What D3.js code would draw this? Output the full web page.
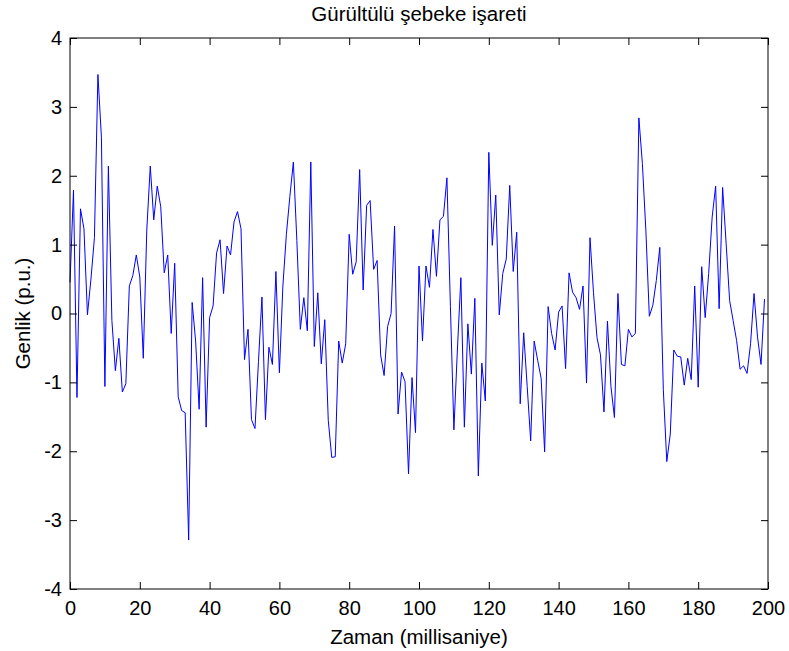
<!DOCTYPE html>
<html>
<head>
<meta charset="utf-8">
<script src="https://cdn.jsdelivr.net/npm/d3@7"></script>
<style>
  body { margin: 0; background: #fff; }
  text { font-family: "Liberation Sans", Arial, sans-serif; fill: #000; }
</style>
</head>
<body>
<div id="chart"></div>
<script>
// noisy signal samples, one per millisecond
const signal = [
  0.45, 1.79, -1.22, 1.52, 1.23, -0.02, 0.5, 1.1, 3.47, 2.56,
  -1.06, 2.14, -0.1, -0.83, -0.36, -1.14, -1.02, 0.4, 0.55, 0.85,
  0.53, -0.65, 1.21, 2.14, 1.36, 1.85, 1.55, 0.59, 0.85, -0.29,
  0.73, -1.21, -1.41, -1.44, -3.29, 0.16, -0.4, -1.39, 0.52, -1.65,
  -0.06, 0.11, 0.88, 1.07, 0.29, 0.98, 0.85, 1.33, 1.48, 1.23,
  -0.67, -0.23, -1.54, -1.67, -0.7, 0.24, -1.54, -0.49, -0.74, 0.61,
  -0.86, 0.4, 1.15, 1.7, 2.2, 1.06, -0.23, 0.23, -0.25, 2.2,
  -0.48, 0.3, -0.73, -0.09, -1.55, -2.09, -2.08, -0.4, -0.72, -0.44,
  1.15, 0.57, 0.75, 2.09, 0.34, 1.57, 1.64, 0.64, 0.77, -0.6,
  -0.9, -0.19, 0.0, 1.27, -1.46, -0.85, -0.99, -2.33, -0.93, -1.73,
  0.69, -0.4, 0.69, 0.38, 1.22, 0.54, 1.36, 1.41, 1.97, 0.1,
  -1.69, -0.53, 0.52, -1.65, -0.15, -0.88, 0.22, -2.36, -0.72, -1.27,
  2.34, 0.99, 1.72, -0.02, 0.58, 0.79, 1.86, 0.61, 1.18, -1.31,
  -0.28, -1.06, -1.85, -0.4, -0.68, -0.94, -2.01, 0.1, -0.29, -0.53,
  0.02, 0.11, -0.8, 0.59, 0.31, 0.23, 0.06, 0.4, -1.01, 1.1,
  0.3, -0.35, -0.6, -1.43, -0.11, -1.06, -1.51, 0.29, -0.74, -0.76,
  -0.23, -0.34, -0.29, 2.84, 2.18, 1.21, -0.04, 0.12, 0.48, 0.96,
  -1.1, -2.15, -1.75, -0.53, -0.62, -0.63, -1.04, -0.65, -0.96, 0.4,
  -1.07, 0.68, -0.06, 0.58, 1.4, 1.85, 0.07, 1.83, 1.02, 0.19,
  -0.1, -0.39, -0.81, -0.76, -0.87, -0.44, 0.29, -0.34, -0.74, 0.21
]
// sample times in ms
const timeMs = d3.range(0, signal.length)

const xTicks = [0, 20, 40, 60, 80, 100, 120, 140, 160, 180, 200]
const yTicks = [-4, -3, -2, -1, 0, 1, 2, 3, 4]
const yTickLabels = ["-4", "-3", "-2", "-1", "0", "1", "2", "3", "4"]

const title = "Gürültülü şebeke işareti"
const xTitle = "Zaman (millisaniye)"
const yTitle = "Genlik (p.u.)"

const width = 789
const height = 651
const margin = { top: 38, right: 21, bottom: 62, left: 70 }
const w = width - margin.left - margin.right
const h = height - margin.top - margin.bottom
const tickLen = 7

const svg = d3
  .select("#chart")
  .append("svg")
  .attr("width", width)
  .attr("height", height)

const g = svg
  .append("g")
  .attr("transform", "translate(" + margin.left + "," + margin.top + ")")

const x = d3.scaleLinear().domain([0, 200]).range([0, w])
const y = d3.scaleLinear().domain([-4, 4]).range([h, 0])

// the signal
const line = d3
  .line()
  .x(function (d, i) {
    return x(timeMs[i])
  })
  .y(function (d) {
    return y(d)
  })

g.append("path")
  .datum(signal)
  .attr("fill", "none")
  .attr("stroke", "#0000ff")
  .attr("stroke-width", 1)
  .attr("d", line)

// axes, ticks pointing inward
const fontSize = "20px"

const bottomAxis = g
  .append("g")
  .attr("transform", "translate(0," + h + ")")
  .call(
    d3.axisBottom(x).tickValues(xTicks).tickSizeInner(-tickLen).tickSizeOuter(0).tickPadding(12)
      .tickFormat(d3.format("d"))
  )
const topAxis = g
  .append("g")
  .call(d3.axisTop(x).tickValues(xTicks).tickSizeInner(-tickLen).tickSizeOuter(0).tickFormat(""))
const leftAxis = g
  .append("g")
  .call(
    d3.axisLeft(y).tickValues(yTicks).tickSizeInner(-tickLen).tickSizeOuter(0).tickPadding(8)
      .tickFormat(function (d, i) {
        return yTickLabels[i]
      })
  )
const rightAxis = g
  .append("g")
  .attr("transform", "translate(" + w + ",0)")
  .call(d3.axisRight(y).tickValues(yTicks).tickSizeInner(-tickLen).tickSizeOuter(0).tickFormat(""))

;[bottomAxis, topAxis, leftAxis, rightAxis].forEach(function (a) {
  a.select(".domain").remove()
  a.selectAll(".tick line").attr("stroke", "#000")
  a.selectAll("text").style("font-size", fontSize).attr("fill", "#000")
})

// box around the plot
g.append("rect")
  .attr("width", w)
  .attr("height", h)
  .attr("fill", "none")
  .attr("stroke", "#000")
  .attr("stroke-width", 1)

// title and axis labels
svg.append("text")
  .attr("x", margin.left + w / 2)
  .attr("y", 21)
  .attr("text-anchor", "middle")
  .style("font-size", "20.5px")
  .text(title)

svg.append("text")
  .attr("x", margin.left + w / 2)
  .attr("y", 644)
  .attr("text-anchor", "middle")
  .style("font-size", "20.5px")
  .text(xTitle)

svg.append("text")
  .attr("transform", "translate(30," + (margin.top + h / 2) + ") rotate(-90)")
  .attr("text-anchor", "middle")
  .style("font-size", "20.5px")
  .text(yTitle)
</script>
</body>
</html>
